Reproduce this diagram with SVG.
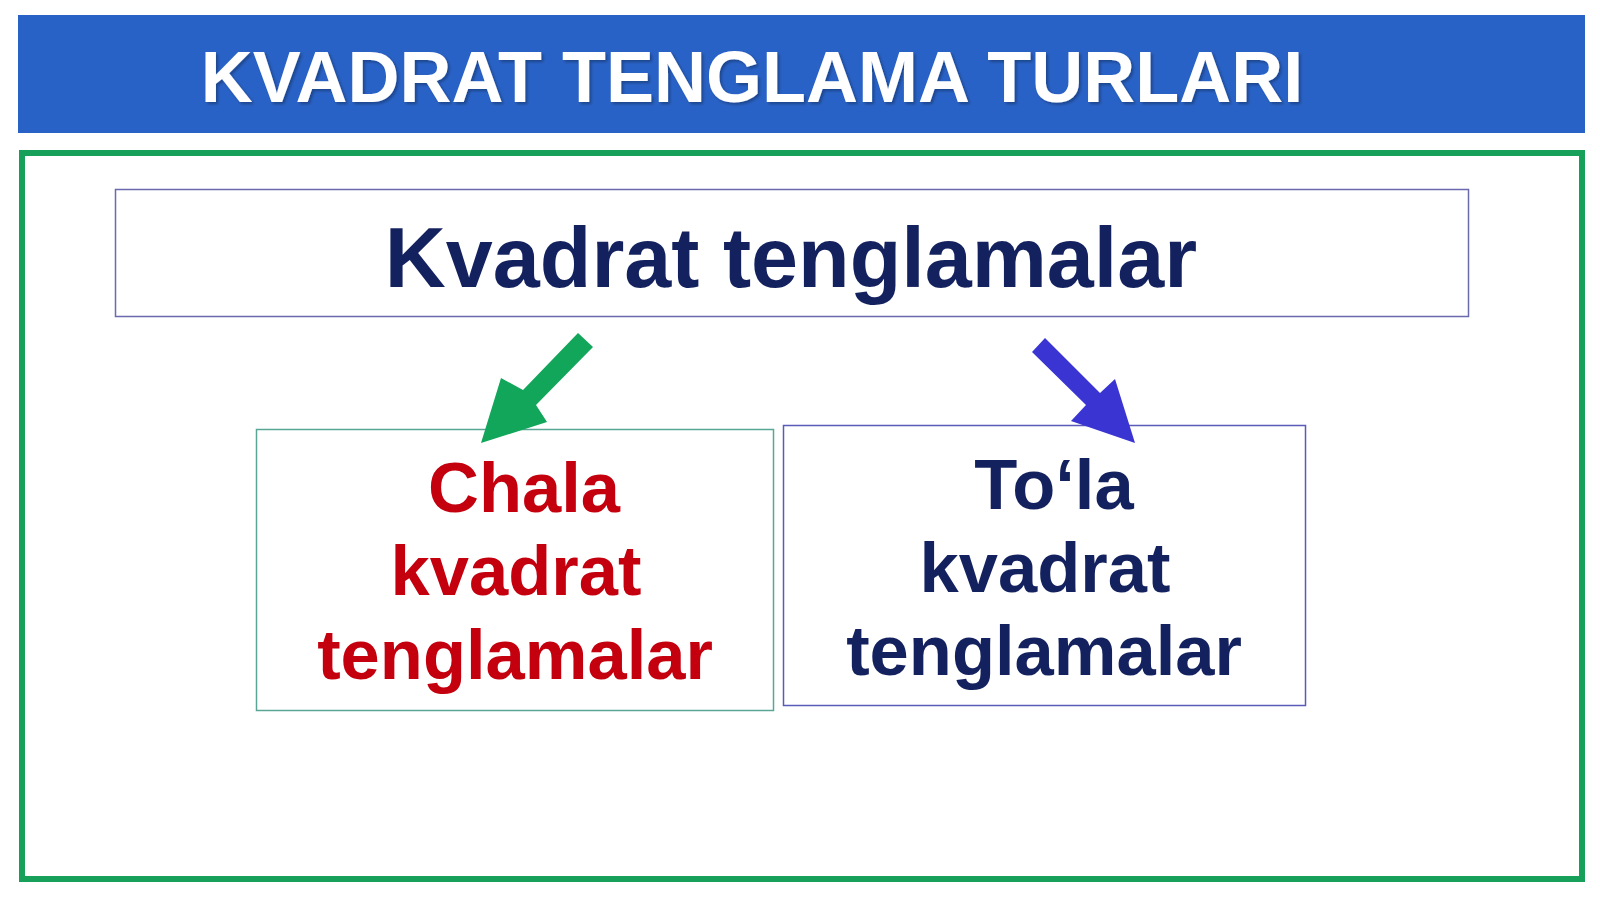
<svg xmlns="http://www.w3.org/2000/svg" width="1600" height="900" viewBox="0 0 1600 900">
<defs>
<style>
.t{font-family:"Liberation Sans",Arial,sans-serif;font-weight:bold;text-anchor:middle}
.title{font-size:72px;fill:#ffffff}
.main{font-size:84.5px;fill:#13215e}
.red{font-size:70.5px;fill:#c4000f}
.navy{font-size:70.5px;fill:#13215e}
.box{fill:#ffffff;stroke-width:1.5}
</style>
<filter id="sh" x="-5%" y="-20%" width="110%" height="140%">
<feDropShadow dx="2" dy="2" stdDeviation="1.5" flood-color="#000" flood-opacity="0.3"/>
</filter>
</defs>
<rect width="1600" height="900" fill="#ffffff"/>
<g id="header">
<rect x="18" y="15" width="1567" height="118" fill="#2962c6"/>
<text class="t title" x="752" y="102" filter="url(#sh)">KVADRAT TENGLAMA TURLARI</text>
</g>
<g id="frame">
<rect x="22" y="153" width="1560" height="726" fill="none" stroke="#17a05a" stroke-width="6"/>
</g>
<g id="root">
<rect class="box" x="115.5" y="189.5" width="1353" height="127" stroke="#6a6aae"/>
<text class="t main" x="791" y="287">Kvadrat tenglamalar</text>
</g>
<g id="chala">
<rect class="box" x="256.5" y="429.5" width="517" height="281" stroke="#5aa696"/>
<text class="t red" x="524" y="512">Chala</text>
<text class="t red" x="516" y="595">kvadrat</text>
<text class="t red" x="515" y="679">tenglamalar</text>
</g>
<g id="tola">
<rect class="box" x="783.5" y="425.5" width="522" height="280" stroke="#5a5ab8"/>
<text class="t navy" x="1054" y="509">To‘la</text>
<text class="t navy" x="1045" y="592">kvadrat</text>
<text class="t navy" x="1044" y="675">tenglamalar</text>
</g>
<g id="connectors">
<polygon points="578,333 593,347 536,405 547,422 481,443 501,378 523,390" fill="#12a65a"/>
<polygon points="1032,352 1045,338 1100,393 1115,379 1135,443 1071,421 1086,405" fill="#3a34d2"/>
</g>
</svg>
